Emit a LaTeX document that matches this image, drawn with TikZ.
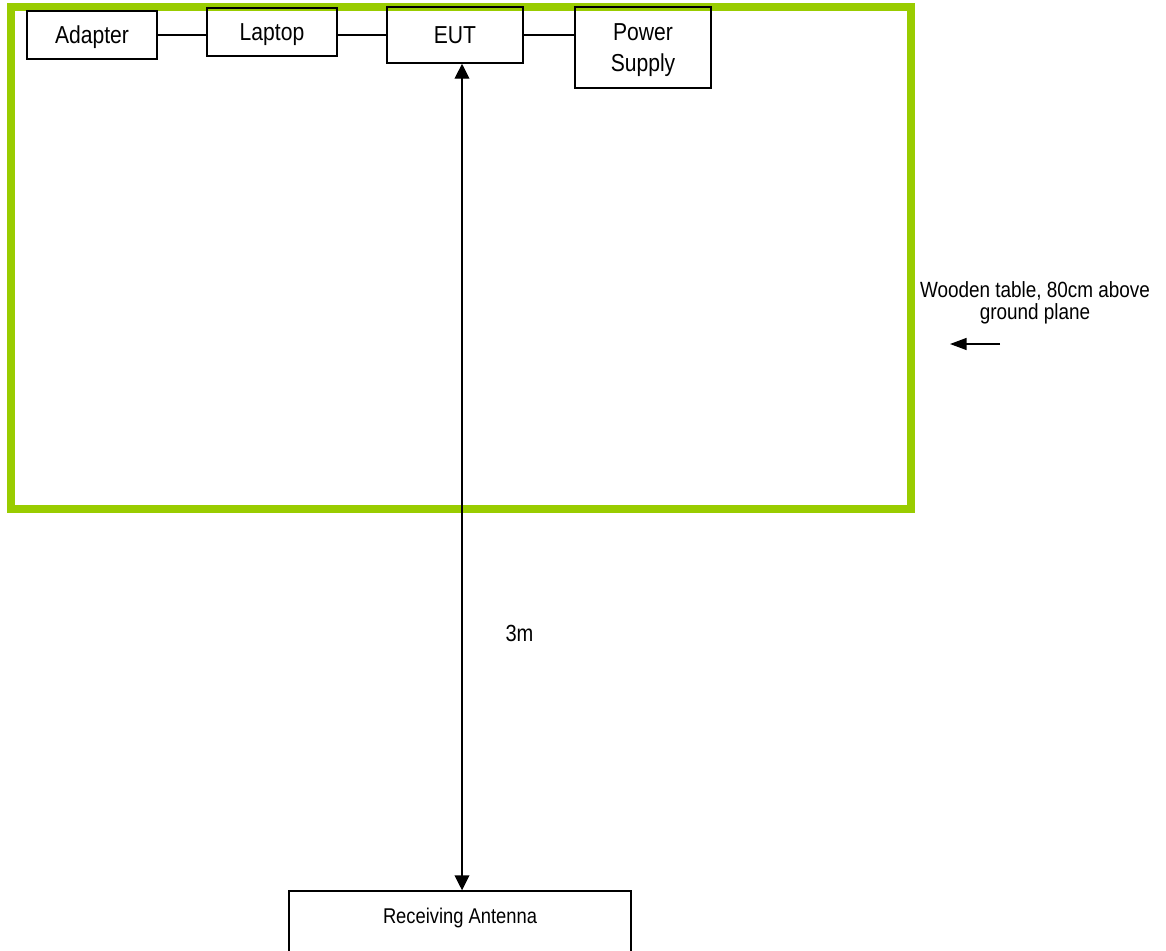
\documentclass[tikz,border=0pt]{standalone}
\usepackage{fontspec}
\setmainfont{Liberation Sans}[FakeStretch=0.86]
\usetikzlibrary{arrows.meta}
\definecolor{tablegreen}{HTML}{99CC00}
\tikzset{
  unitbox/.style={draw=black, line width=1.1pt, inner sep=0pt, align=center,
    font=\fontsize{18.4}{23.25}\selectfont},
  wire/.style={draw=black, line width=1.1pt},
  distarrow/.style={wire, {Triangle[length=11.25pt,width=11pt]}-{Triangle[length=11.25pt,width=11pt]}},
  ptrarrow/.style={wire, -{Triangle[length=12.5pt,width=9pt]}},
}
\begin{document}
\begin{tikzpicture}[x=0.75pt,y=-0.75pt]
\useasboundingbox (0,0) rectangle (1166,950);
\clip (0,0) rectangle (1166,950);
\fill[white] (0,0) rectangle (1166,950);
% table frame
\draw[tablegreen, line width=6pt] (11,7) rectangle (911,509);
% boxes
\node[unitbox, text depth=0pt, minimum width=97.5pt, minimum height=36pt] (adapter) at (92,35) {Adapter};
\node[unitbox, text depth=0pt, minimum width=97.5pt, minimum height=36pt] (laptop) at (272,32) {Laptop};
\node[unitbox, text depth=0pt, minimum width=102pt, minimum height=42pt] (eut) at (455,35) {EUT};
\node[unitbox, text depth=0pt, minimum width=102pt, minimum height=60.75pt] (ps) at (643,47.5) {Power\\Supply};
\node[unitbox, anchor=base, minimum width=256.5pt, text height=24pt, text depth=27pt,
  font=\fontsize{16}{20}\selectfont] (ant) at (460,923) {Receiving Antenna};
% connectors
\draw[wire] (adapter.east) -- (adapter.east -| laptop.west);
\draw[wire] (eut.west -| laptop.east) -- (eut.west);
\draw[wire] (eut.east) -- (eut.east -| ps.west);
\draw[distarrow] ([xshift=1.5pt]ant.north |- eut.south) -- ([xshift=1.5pt]ant.north);
% labels
\node[font=\fontsize{17.5}{20}\selectfont, inner sep=0pt] (dist) at (519.5,633) {3m};
\node[font=\fontsize{16.5}{16.5}\selectfont, align=center, inner sep=0pt] (tablelbl) at (1035,303)
  {Wooden table, 80cm above\\ground plane};
\coordinate (ptrstart) at (1000,344);
\coordinate (ptrend) at (950,344);
\draw[ptrarrow] (ptrstart) -- (ptrend);
\end{tikzpicture}
\end{document}
